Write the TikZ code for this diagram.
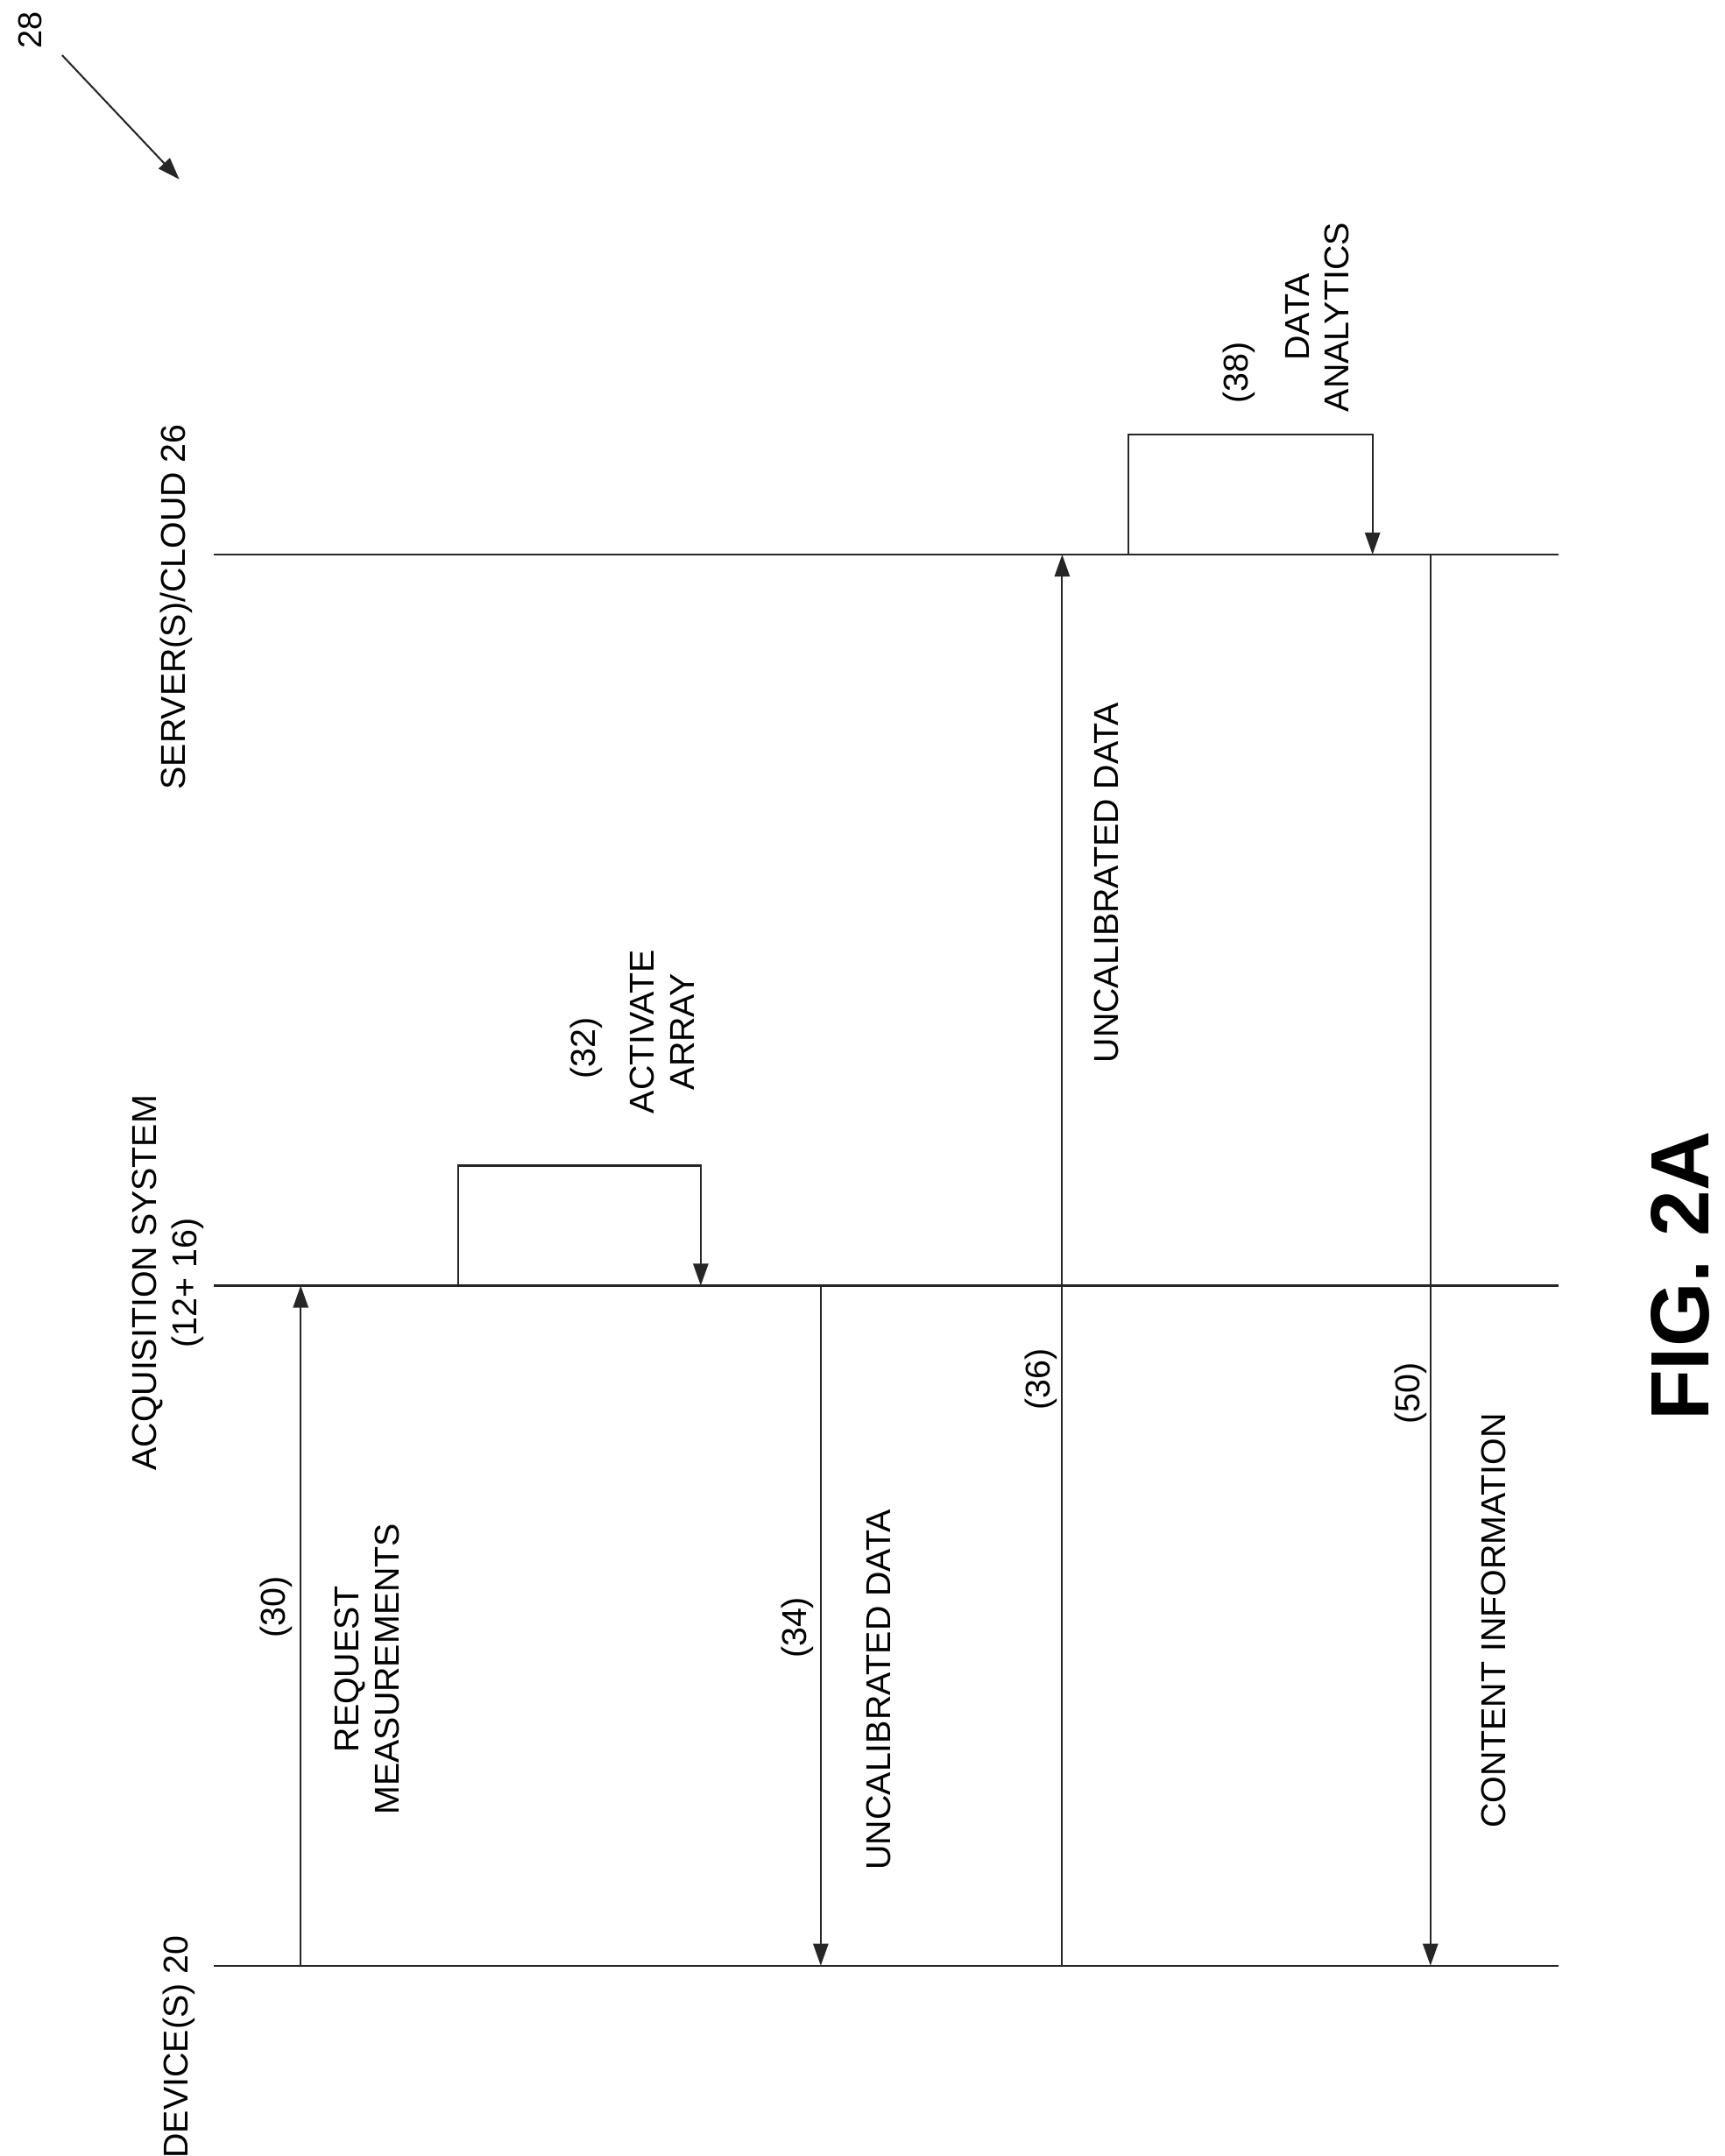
\documentclass[tikz,border=0pt]{standalone}
\usepackage{fontspec}
\setmainfont{Liberation Sans}
\usetikzlibrary{arrows.meta}
\begin{document}
\begin{tikzpicture}[x=1pt,y=-1pt,
  lbl/.style={rotate=90,font=\fontsize{25}{29}\selectfont,align=center,inner sep=0},
  ln/.style={line width=1.3pt,draw=black!85},
  arr/.style={ln,-{Triangle[length=16pt,width=11pt]}}]
\useasboundingbox (0,0) rectangle (1250,1563);
% lifelines
\coordinate (d0) at (155,1425); \coordinate (d1) at (1130,1425);
\coordinate (a0) at (155,932); \coordinate (a1) at (1130,932);
\coordinate (s0) at (155,402); \coordinate (s1) at (1130,402);
\draw[ln] (d0)--(d1); \draw[ln] (a0)--(a1); \draw[ln] (s0)--(s1);
\node[lbl] (ldev) at (130,1484) {DEVICE(S) 20};
\node[lbl] (lacq) at (122,930) {ACQUISITION SYSTEM\\(12+ 16)};
\node[lbl] (lsrv) at (128,440) {SERVER(S)/CLOUD 26};
% messages
\coordinate (m30a) at (218,1425); \coordinate (m30b) at (218,932);
\draw[arr] (m30a)--(m30b);
\node[lbl] (t30) at (200,1165) {(30)};
\node[lbl] (t30b) at (266,1210) {REQUEST\\MEASUREMENTS};
\coordinate (m34a) at (595,932); \coordinate (m34b) at (595,1425);
\draw[arr] (m34a)--(m34b);
\node[lbl] (t34) at (578,1180) {(34)};
\node[lbl] (t34b) at (637,1225) {UNCALIBRATED DATA};
\coordinate (m36a) at (770,1425); \coordinate (m36b) at (770,402);
\draw[arr] (m36a)--(m36b);
\node[lbl] (t36) at (755,1000) {(36)};
\node[lbl] (t36b) at (802,640) {UNCALIBRATED DATA};
\coordinate (m50a) at (1037,402); \coordinate (m50b) at (1037,1425);
\draw[arr] (m50a)--(m50b);
\node[lbl] (t50) at (1023,1010) {(50)};
\node[lbl] (t50b) at (1083,1175) {CONTENT INFORMATION};
% self loops
\coordinate (l32a) at (332,932); \coordinate (l32b) at (508,932);
\draw[arr] (l32a) |- (420,845) -| (l32b);
\node[lbl] (t32) at (425,760) {(32)};
\node[lbl] (t32b) at (480,748) {ACTIVATE\\ARRAY};
\coordinate (l38a) at (818,402); \coordinate (l38b) at (995,402);
\draw[arr] (l38a) |- (900,315) -| (l38b);
\node[lbl] (t38) at (898,270) {(38)};
\node[lbl] (t38b) at (955,230) {DATA\\ANALYTICS};
% figure label
\node[rotate=90,font=\fontsize{60}{66}\selectfont\bfseries] (fig) at (1218,925) {FIG. 2A};
\node[rotate=90,font=\fontsize{24}{28}\selectfont] (n28) at (22,22) {28};
\coordinate (r0) at (45,40); \coordinate (r1) at (130,130);
\draw[arr] (r0)--(r1);
\end{tikzpicture}
\end{document}
